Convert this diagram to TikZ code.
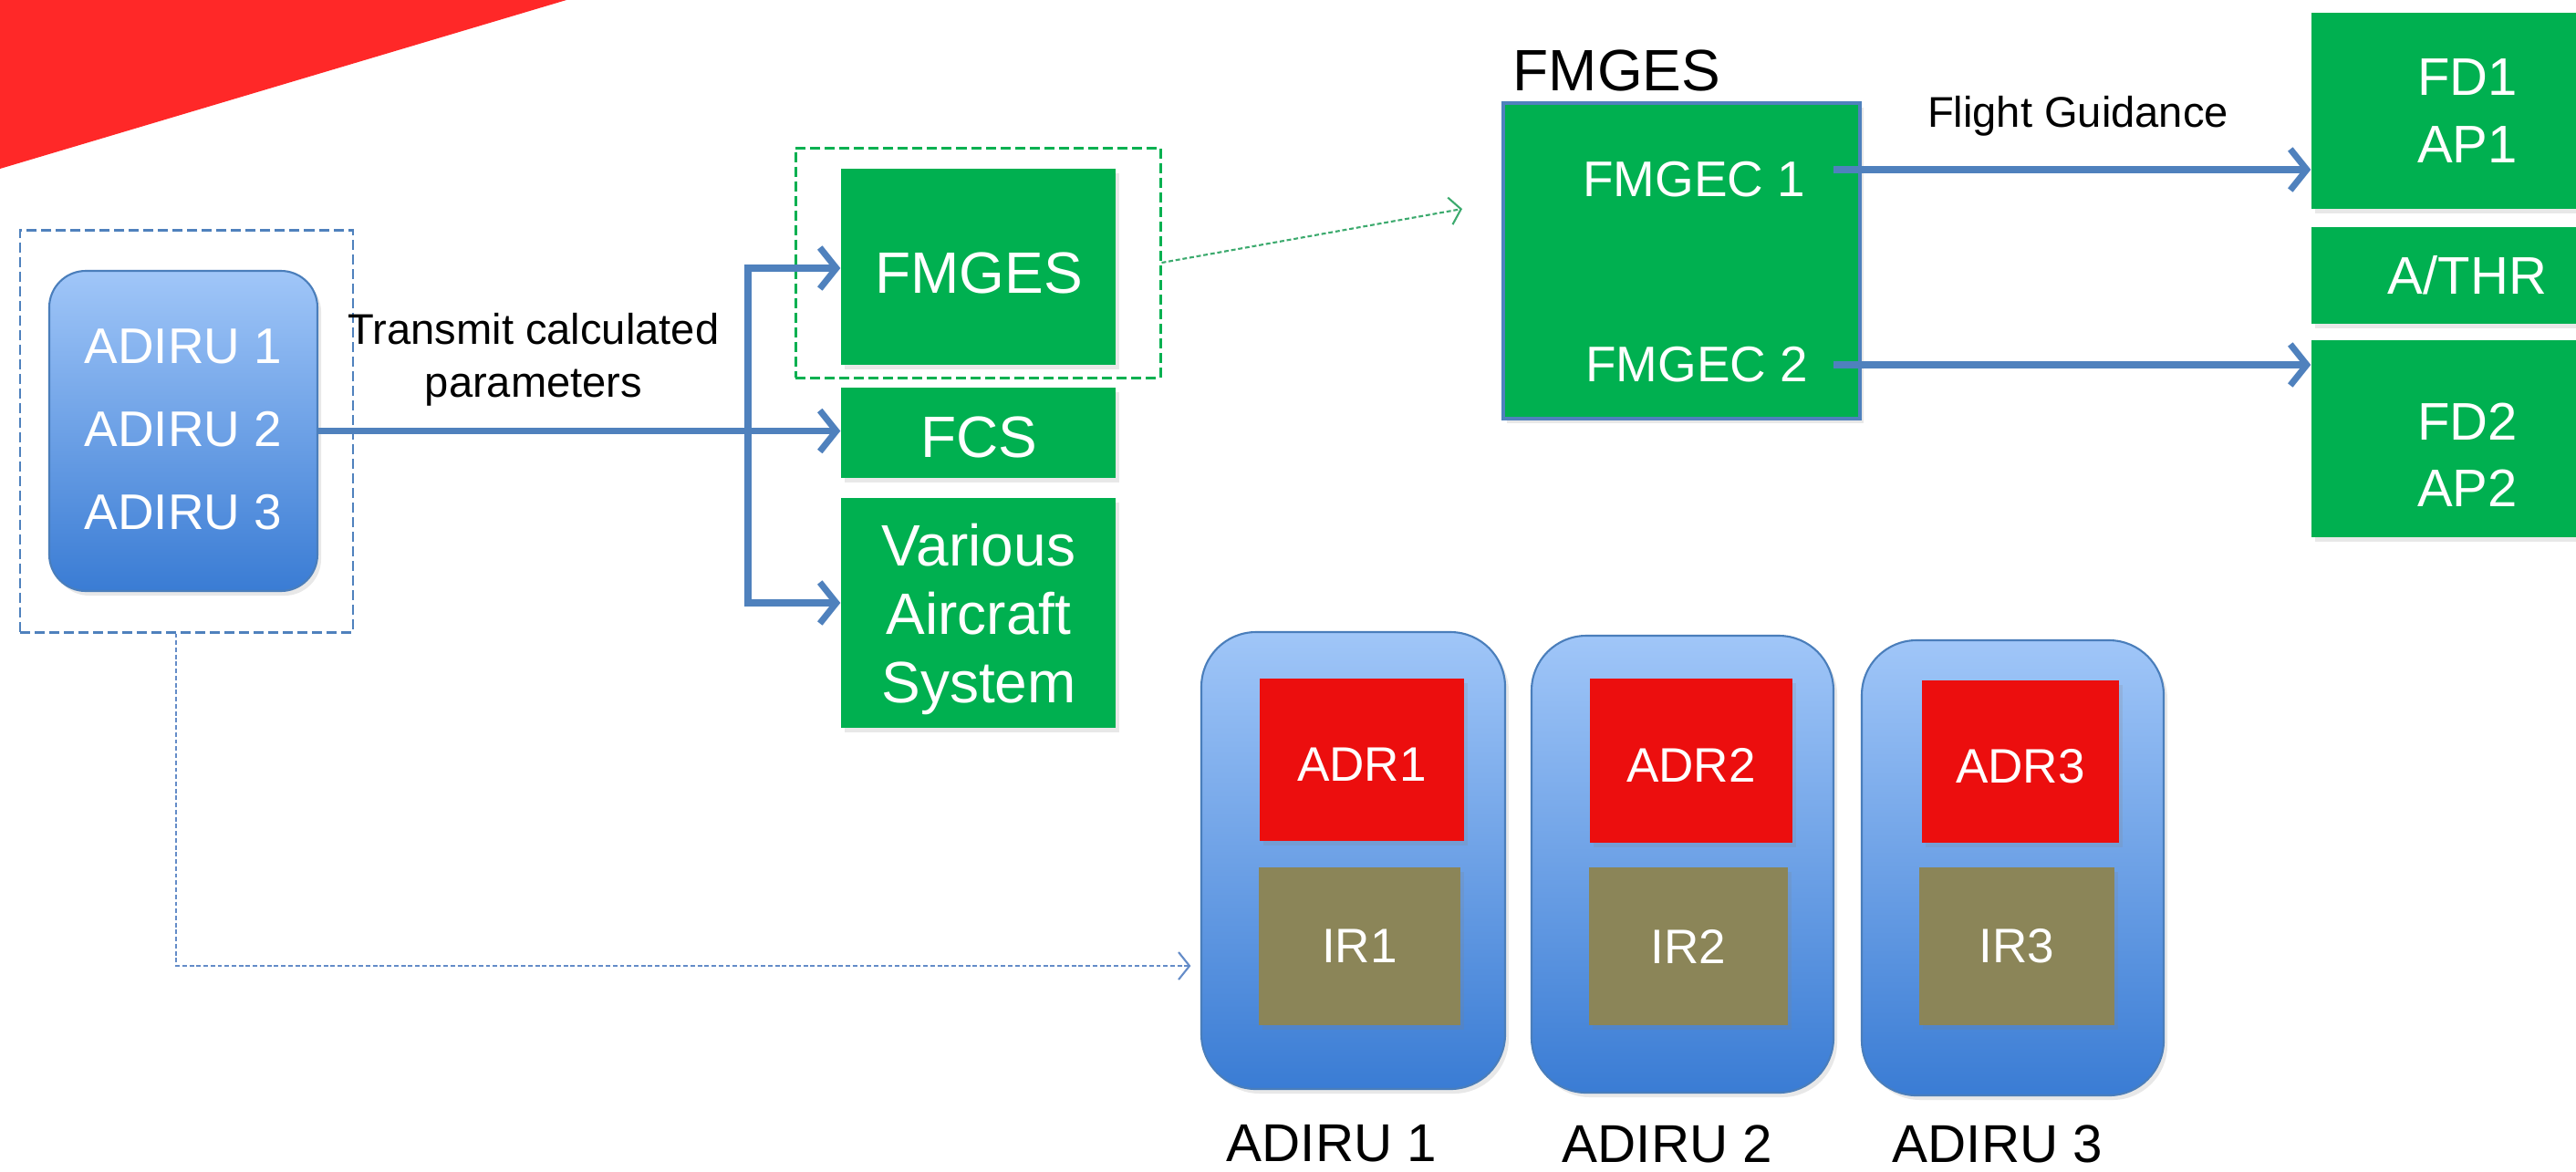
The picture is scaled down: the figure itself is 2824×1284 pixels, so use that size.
\documentclass[tikz,border=0pt]{standalone}
\usepackage{fontspec}
\setmainfont{Liberation Sans}
\usetikzlibrary{arrows.meta,fit,shadows,calc}

\definecolor{slidered}{RGB}{255,40,40}
\definecolor{linkblue}{RGB}{79,129,189}
\definecolor{unitgreen}{RGB}{0,176,80}
\definecolor{adrred}{RGB}{236,14,14}
\definecolor{irolive}{RGB}{139,133,88}
\definecolor{unittop}{RGB}{160,198,248}
\definecolor{unitbot}{RGB}{58,124,212}
\definecolor{unitedge}{RGB}{74,126,187}
\definecolor{hintgreen}{RGB}{60,170,110}
\definecolor{hintblue}{RGB}{100,140,200}

% font sizes
\newcommand\fbig{\fontsize{18.2}{21.3}\selectfont}
\newcommand\fside{\fontsize{16.5}{20.8}\selectfont}
\newcommand\funit{\fontsize{15.6}{25.8}\selectfont}
\newcommand\flabel{\fontsize{16.6}{19}\selectfont}
\newcommand\fsub{\fontsize{15.1}{18}\selectfont}
\newcommand\fnote{\fontsize{13.4}{16.5}\selectfont}

\tikzset{
  softshadow/.style={drop shadow={opacity=0.18, shadow xshift=0.04cm, shadow yshift=-0.05cm}},
  gbox/.style={fill=unitgreen, inner sep=0pt, softshadow},
  unitbox/.style={top color=unittop, bottom color=unitbot, draw=unitedge, line width=0.6pt, inner sep=0pt, softshadow},
  redbox/.style={fill=adrred, inner sep=0pt, softshadow},
  olivebox/.style={fill=irolive, inner sep=0pt, softshadow},
  wtext/.style={text=white, align=center, inner sep=0pt},
  gtext/.style={wtext, font=\fbig},
  stext/.style={wtext, font=\fside},
  subtext/.style={wtext, font=\fsub},
  dashbox/.style={line width=0.85pt, dash pattern=on 0.11cm off 0.05cm, inner sep=0pt},
  flow/.style={draw=linkblue, line width=2pt, -{Straight Barb[length=0.18cm, width=0.45cm]}},
  flowboth/.style={draw=linkblue, line width=2pt, {Straight Barb[length=0.18cm, width=0.45cm]}-{Straight Barb[length=0.18cm, width=0.45cm]}},
  hint/.style={line width=0.6pt, dash pattern=on 1.4pt off 0.8pt, -{Straight Barb[length=0.12cm, width=0.3cm]}},
}

\begin{document}
\begin{tikzpicture}[x=0.01cm, y=-0.01cm]
\clip (0,0) rectangle (2824,1284);
\fill[white] (0,0) rectangle (2824,1284);

% corner band
\fill[slidered] (0,0) -- (621,0) -- (0,185) -- cycle;

% ADIRU source group
\node[dashbox, draw=linkblue, fit={(22,252)(387,693)}] (grp) {};
\node[unitbox, rounded corners=0.4cm, fit={(54,297)(348,648)}] (adiru) {};
\node[wtext, font=\funit] (adiru-t) at (201,471) {ADIRU 1\\ADIRU 2\\ADIRU 3};

% receiving systems
\node[gbox, fit={(922,185)(1223,400)}] (fmges) {};
\node[gtext] (fmges-t) at (1073,299) {FMGES};
\node[gbox, fit={(922,425)(1223,524)}] (fcs) {};
\node[gtext] (fcs-t) at (1073,479) {FCS};
\node[gbox, fit={(922,546)(1223,798)}] (various) {};
\node[gtext] (various-t) at (1073,679) {Various\\Aircraft\\System};
\node[dashbox, draw=unitgreen, fit={(872,162)(1272,414)}] (sel) {};

% distribution bus
\coordinate (b1) at (820,294);
\coordinate (b3) at (820,661);
\draw[flow] (adiru.east) -- (adiru.east -| fcs.west);
\draw[flowboth] (b1 -| fmges.west) -- (b1) -- (b3) -- (b3 -| various.west);
\node[font=\fnote, align=center] (tx) at (585,394) {Transmit calculated\\parameters};

% FMGES detail
\node[anchor=west, inner sep=0pt, font=\fbig] (fmglabel) at (1658,77) {FMGES};
\node[gbox, draw=linkblue, line width=1.2pt, fit={(1648,113)(2039,459)}] (fmgesbox) {};
\node[wtext, font=\funit] (fmgec1) at (1857,197) {FMGEC 1};
\node[wtext, font=\funit] (fmgec2) at (1860,400) {FMGEC 2};
\coordinate (gtip) at (1603,229);
\draw[hint, draw=hintgreen] (sel.east) -- (gtip);

% guidance outputs
\node[gbox, fit={(2534,14)(2876,229)}] (fd1) {};
\node[stext] (fd1-t) at (fd1.center) {FD1\\AP1};
\node[gbox, fit={(2534,249)(2876,355)}] (athr) {};
\node[stext] (athr-t) at (athr.center) {A/THR};
\node[gbox, fit={(2534,373)(2876,589)}] (fd2) {};
\node[stext] (fd2-t) at (2705,499) {FD2\\AP2};
\coordinate (s1) at (2010,186);
\coordinate (s2) at (2010,400);
\draw[flow] (s1) -- (fd1.west |- s1);
\draw[flow] (s2) -- (fd2.west |- s2);
\node[font=\fnote] (fg) at (2278,127) {Flight Guidance};

% individual ADIRUs
\node[unitbox, rounded corners=0.6cm, fit={(1317,693)(1650,1194)}] (cont1) {};
\node[unitbox, rounded corners=0.6cm, fit={(1679,697)(2010,1198)}] (cont2) {};
\node[unitbox, rounded corners=0.6cm, fit={(2041,702)(2372,1201)}] (cont3) {};
\node[redbox, fit={(1381,744)(1605,922)}] (adr1) {};
\node[redbox, fit={(1743,744)(1965,924)}] (adr2) {};
\node[redbox, fit={(2107,746)(2323,924)}] (adr3) {};
\node[olivebox, fit={(1380,951)(1601,1124)}] (ir1) {};
\node[olivebox, fit={(1742,951)(1960,1124)}] (ir2) {};
\node[olivebox, fit={(2104,951)(2318,1124)}] (ir3) {};
\node[subtext] (adr1-t) at (1493,838) {ADR1};
\node[subtext] (adr2-t) at (1854,839) {ADR2};
\node[subtext] (adr3-t) at (2215,840) {ADR3};
\node[subtext] (ir1-t) at (ir1.center) {IR1};
\node[subtext] (ir2-t) at (ir2.center) {IR2};
\node[subtext] (ir3-t) at (ir3.center) {IR3};
\node[font=\flabel] (lab1) at (1460,1254) {ADIRU 1};
\node[font=\flabel] (lab2) at (1828,1254) {ADIRU 2};
\node[font=\flabel] (lab3) at (2190,1254) {ADIRU 3};

% link from the group to the unit breakdown
\coordinate (dk) at (193,1059);
\draw[hint, draw=hintblue, shorten >=3pt] (grp.south -| dk) -- (dk) -- (dk -| cont1.west);
\end{tikzpicture}
\end{document}
